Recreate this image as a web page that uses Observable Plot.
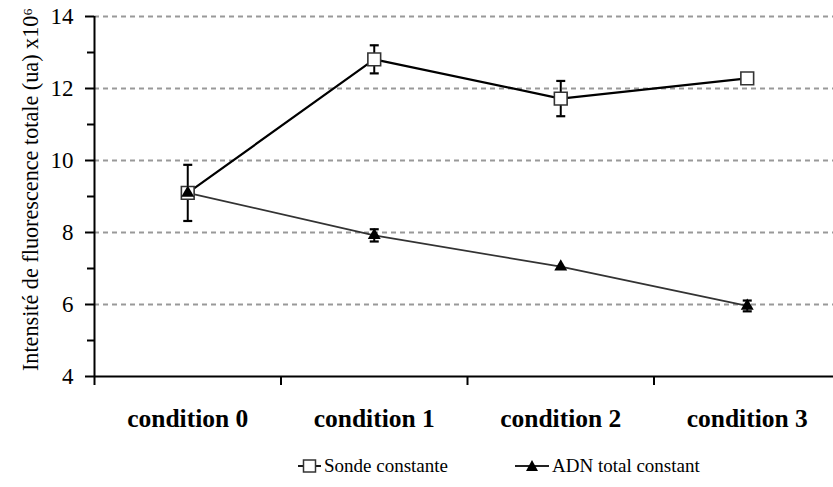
<!DOCTYPE html>
<html><head><meta charset="utf-8">
<script src="https://cdn.jsdelivr.net/npm/d3@7"></script>
<script src="https://cdn.jsdelivr.net/npm/@observablehq/plot@0.6"></script>
<style>
body{margin:0;background:#fff;font-family:"Liberation Serif","Times New Roman",serif;}
#wrap{position:relative;width:833px;height:487px;}
#legend{position:absolute;top:453px;left:0;width:833px;height:26px;font-size:19px;color:#000;font-family:"Liberation Serif","Times New Roman",serif;}
.item{position:absolute;top:0;display:flex;align-items:center;height:26px;}
.item svg{margin-right:2px;}
</style>
</head><body>
<div id="wrap"><div id="chart"></div><div id="legend"></div></div>
<script>
const categories = ["condition 0", "condition 1", "condition 2", "condition 3"];
const seriesNames = ["Sonde constante", "ADN total constant"];
const sondeValues = [9.1, 12.81, 11.72, 12.28];
const sondeErrors = [0.78, 0.39, 0.49, 0];
const adnValues = [9.1, 7.92, 7.05, 5.96];
const adnErrors = [0, 0.17, 0, 0.15];
const yMajorTicks = [4, 6, 8, 10, 12, 14];
const yMinorTicks = [5, 7, 9, 11, 13];
const gridTicks = [6, 8, 10, 12, 14];
const yLabel = "Intensité de fluorescence totale (ua) x10⁶";

const sonde = categories.map((c, i) => ({i, c, v: sondeValues[i], e: sondeErrors[i]}));
const adn = categories.map((c, i) => ({i, c, v: adnValues[i], e: adnErrors[i]}));
const boundaries = categories.map((c, i) => i - 0.5);

const capSymbol = {draw(ctx, size) { const w = 4.5; ctx.moveTo(-w, 0); ctx.lineTo(w, 0); }};
const errBars = (data, color) => {
  const d = data.filter(r => r.e > 0);
  return [
    Plot.ruleX(d, {x: "i", y1: r => r.v - r.e, y2: r => r.v + r.e, stroke: color, strokeWidth: 2}),
    Plot.dot(d, {x: "i", y: r => r.v + r.e, symbol: capSymbol, r: 3, stroke: color, strokeWidth: 2.2}),
    Plot.dot(d, {x: "i", y: r => r.v - r.e, symbol: capSymbol, r: 3, stroke: color, strokeWidth: 2.2})
  ];
};

const chart = Plot.plot({
  width: 833,
  height: 440,
  marginTop: 16,
  marginBottom: 64,
  marginLeft: 94,
  marginRight: 0,
  style: {fontFamily: '"Liberation Serif","Times New Roman",serif', background: "#fff", color: "#000"},
  x: {type: "linear", domain: [-0.5, categories.length - 0.5], range: [94, 840], axis: null},
  y: {domain: [4, 14], axis: null},
  marks: [
    Plot.ruleY(gridTicks, {stroke: "#999", strokeWidth: 2.2, strokeDasharray: "5,4"}),
    Plot.ruleY([4], {stroke: "#000", strokeWidth: 2}),
    Plot.ruleX([-0.5], {y1: 4, y2: 14, stroke: "#000", strokeWidth: 2}),
    Plot.axisY({ticks: yMajorTicks, tickSize: 9, tickPadding: 12, fontSize: 23, strokeWidth: 2, stroke: "#000", label: null}),
    Plot.axisY({ticks: yMinorTicks, tickSize: 7, tickFormat: () => "", strokeWidth: 2, stroke: "#000", label: null}),
    Plot.axisX({ticks: boundaries, tickSize: 9, tickFormat: () => "", strokeWidth: 2, stroke: "#000", label: null}),
    Plot.axisX({ticks: categories.map((c, i) => i), tickSize: 0, tickPadding: 32, tickFormat: i => categories[i], fontSize: 25.5, fontWeight: "bold", label: null}),
    Plot.text([yLabel], {frameAnchor: "left", textAnchor: "middle", lineAnchor: "middle", rotate: -90, dx: -64, dy: -7, fontSize: 22.2, fill: "#000"}),
    Plot.line(adn, {x: "i", y: "v", stroke: "#333", strokeWidth: 1.7}),
    Plot.line(sonde, {x: "i", y: "v", stroke: "#000", strokeWidth: 2.2}),
    ...errBars(sonde, "#000"),
    ...errBars(adn, "#000"),
    Plot.dot(sonde, {x: "i", y: "v", symbol: "square", r: 7.2, fill: "#fff", stroke: "#333", strokeWidth: 1.6}),
    Plot.dot(adn, {x: "i", y: "v", symbol: "triangle", r: 4.8, fill: "#000", stroke: "none"})
  ]
});
document.getElementById("chart").appendChild(chart);

const legend = document.getElementById("legend");
const items = [
  {name: seriesNames[0], left: 297, marker: '<svg width="25" height="20"><line x1="1" y1="10" x2="24" y2="10" stroke="#000" stroke-width="1.8"/><rect x="6.5" y="4" width="12" height="12" fill="#fff" stroke="#333" stroke-width="1.5"/></svg>'},
  {name: seriesNames[1], left: 514, marker: '<svg width="36" height="20"><line x1="1" y1="10" x2="35" y2="10" stroke="#222" stroke-width="1.8"/><polygon points="18,4 24,15 12,15" fill="#000"/></svg>'}
];
items.forEach(it => {
  const div = document.createElement("div");
  div.className = "item";
  div.style.left = it.left + "px";
  div.innerHTML = it.marker + "<span>" + it.name + "</span>";
  legend.appendChild(div);
});
</script>
</body></html>
